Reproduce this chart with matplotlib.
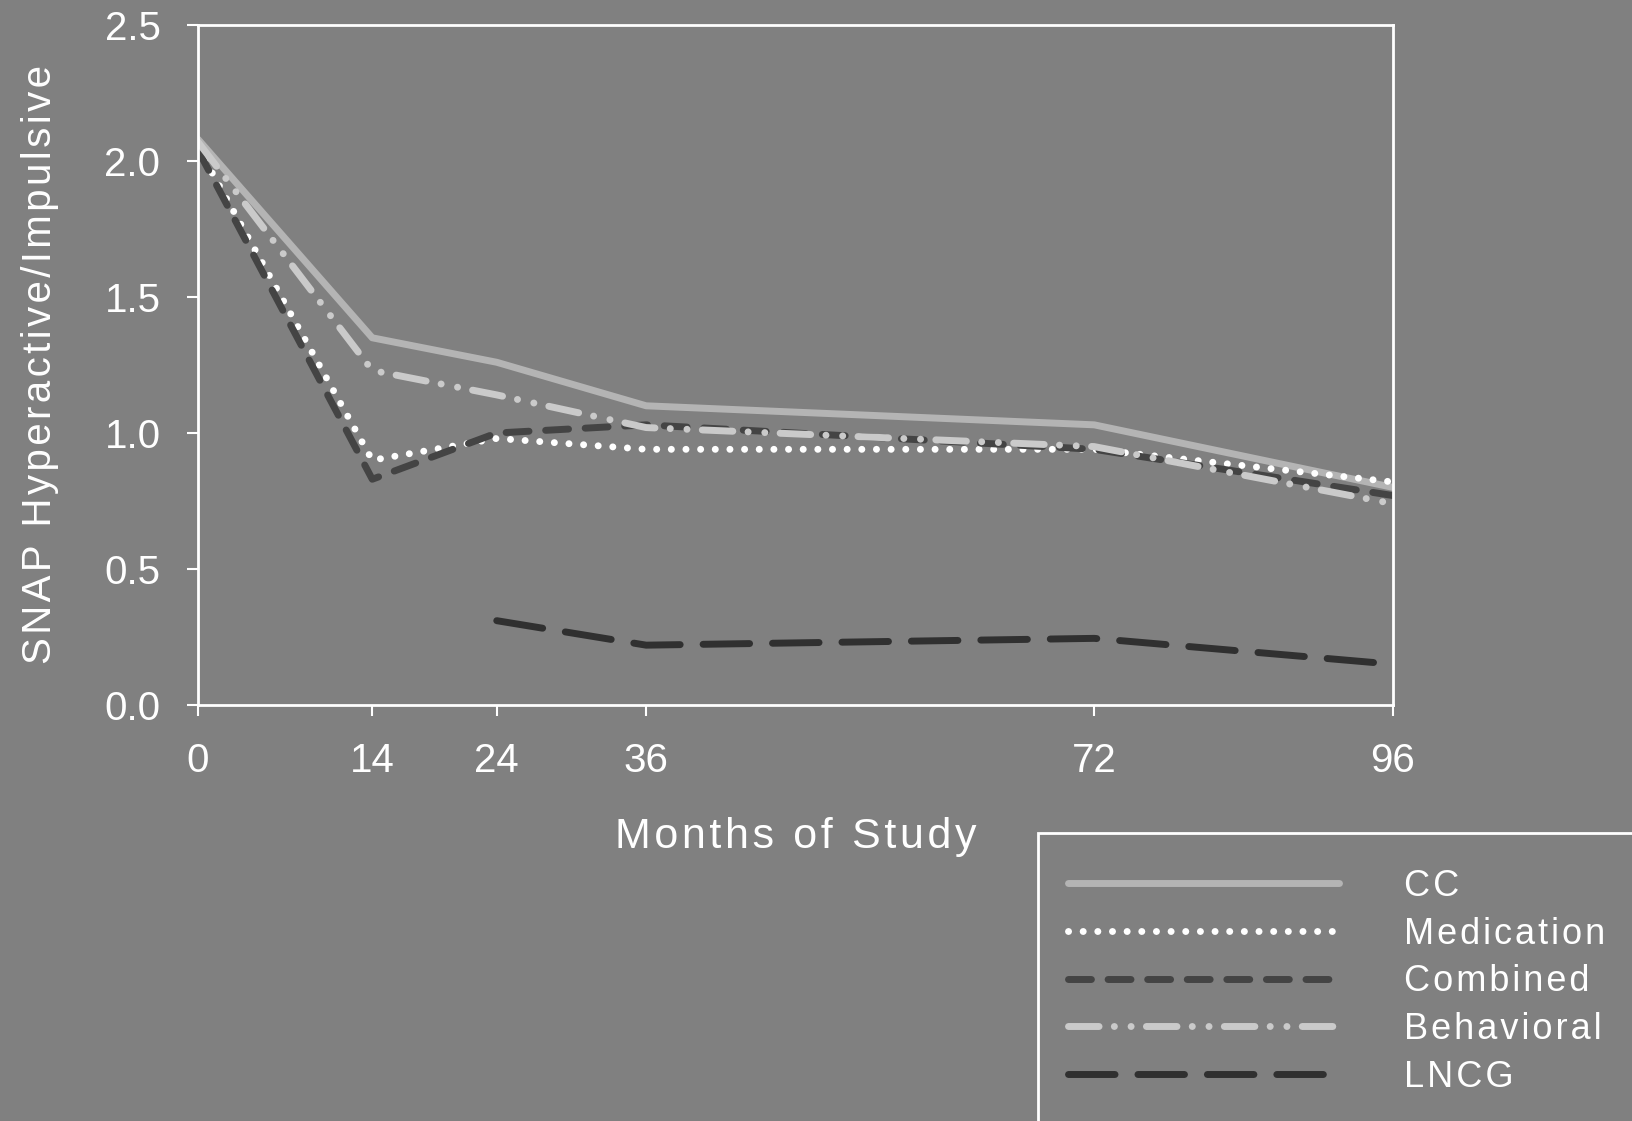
import matplotlib.pyplot as plt
from matplotlib.patches import Rectangle
import numpy as np

plt.rcParams['font.family'] = ['Liberation Sans', 'DejaVu Sans']

# data
months = [0, 14, 24, 36, 72, 96]
cc = [2.08, 1.35, 1.26, 1.10, 1.03, 0.80]
medication = [2.05, 0.90, 0.98, 0.94, 0.94, 0.82]
combined = [2.04, 0.83, 1.00, 1.03, 0.94, 0.77]
behavioral = [2.07, 1.23, 1.14, 1.02, 0.95, 0.74]
lncg = [np.nan, np.nan, 0.31, 0.22, 0.245, 0.15]

groups = ["CC", "Medication", "Combined", "Behavioral", "LNCG"]
series = [cc, medication, combined, behavioral, lncg]

# line styles: colour, dash pattern (in linewidth units)
styles = {
    "CC": ('#b4b4b4', '-'),
    "Medication": ('#ffffff', (0, (0.01, 2.1))),
    "Combined": ('#444444', (0, (3.3, 2.4))),
    "Behavioral": ('#cacaca', (0, (4.4, 2.2, 0.01, 2.4, 0.01, 2.2))),
    "LNCG": ('#303030', (0, (6.7, 3.3))),
}

def spaced(s):
    # the original text is slightly letter-spaced
    return "\u200a".join(s)

bg = '#808080'
fig = plt.figure(figsize=(16.32, 11.21), dpi=100)
fig.patch.set_facecolor(bg)
ax = fig.add_axes([198/1632, 1-705/1121, 1195/1632, 680/1121])
ax.set_facecolor(bg)

for name, vals in zip(groups, series):
    color, ls = styles[name]
    ax.plot(months, vals, color=color, linestyle=ls, linewidth=5,
            solid_capstyle='round', dash_capstyle='round', label=spaced(name))

ax.set_xlim(0, 96)
ax.set_ylim(0, 2.5)
ax.set_xticks(months)
ax.set_yticks(np.arange(0, 2.51, 0.5))
ax.set_yticklabels(["%.1f" % v for v in np.arange(0, 2.51, 0.5)])

for sp in ax.spines.values():
    sp.set_color('white')
    sp.set_linewidth(2)

ax.tick_params(axis='both', colors='white', labelcolor='white', labelsize=29,
               length=8, width=1.5, pad=19)

ax.set_xlabel(spaced("Months of Study"), color='white', fontsize=31)
ax.xaxis.set_label_coords(0.5, -0.165)
ax.set_ylabel(spaced("SNAP Hyperactive/Impulsive"), color='white', fontsize=29)
ax.yaxis.set_label_coords(-0.116, 0.5)

# legend box running off the figure edge
fig.patches.append(Rectangle((1038/1632, -0.1), 0.5, 1-833/1121+0.1,
                             transform=fig.transFigure, fill=False,
                             edgecolor='white', linewidth=2))
leg = fig.legend(loc='upper left', bbox_to_anchor=(1068/1632, 1-869/1121),
                 frameon=False, fontsize=26, handlelength=7.5,
                 handletextpad=1.8, labelspacing=0.35, borderaxespad=0,
                 borderpad=0)
for t in leg.get_texts():
    t.set_color('white')

fig.savefig('out.png', dpi=100, facecolor=bg)
